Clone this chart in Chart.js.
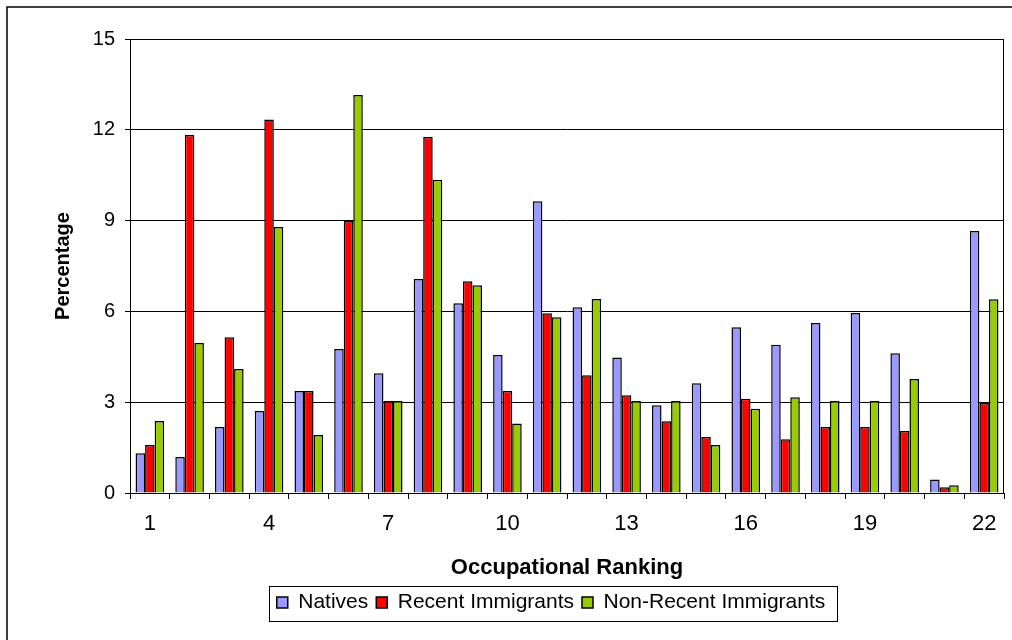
<!DOCTYPE html>
<html>
<head>
<meta charset="utf-8">
<script src="https://cdn.jsdelivr.net/npm/chart.js@4.4.0/dist/chart.umd.min.js"></script>
<style>
html,body{margin:0;padding:0;background:#fff;}
#wrap{width:1012px;height:640px;position:relative;}
</style>
</head>
<body>
<div id="wrap"><canvas id="c" width="1012" height="640"></canvas></div>
<script>
const categories = ['1','2','3','4','5','6','7','8','9','10','11','12','13','14','15','16','17','18','19','20','21','22'];
const natives = [1.31,1.19,2.18,2.71,3.37,4.76,3.96,7.07,6.27,4.56,9.64,6.14,4.48,2.90,3.63,5.48,4.90,5.62,5.95,4.62,0.45,8.66];
const recentImmigrants = [1.59,11.83,5.15,12.34,3.37,8.99,3.04,11.76,7.00,3.37,5.94,3.89,3.23,2.37,1.85,3.11,1.78,2.18,2.18,2.05,0.19,2.97];
const nonRecentImmigrants = [2.38,4.96,4.10,8.79,1.92,13.15,3.04,10.35,6.86,2.30,5.81,6.41,3.04,3.04,1.59,2.78,3.16,3.04,3.04,3.77,0.26,6.40];
const yTicks = [0,3,6,9,12,15];
const seriesNames = ['Natives','Recent Immigrants','Non-Recent Immigrants'];

const FONT = 'Arial, "Liberation Sans", sans-serif';
const LEGEND_SHIFT = 49;

const framePlugin = {
  id: 'frame',
  afterLayout(chart) {
    const lg = chart.legend;
    if (lg) { lg.left += LEGEND_SHIFT; lg.right += LEGEND_SHIFT; }
  },
  beforeDraw(chart) {
    const ctx = chart.ctx;
    ctx.save();
    ctx.fillStyle = '#fff';
    ctx.fillRect(0, 0, chart.width, chart.height);
    ctx.strokeStyle = '#000';
    ctx.lineWidth = 1.5;
    ctx.strokeRect(7, 7, chart.width + 20, chart.height + 20);
    ctx.restore();
  },
  afterDraw(chart) {
    const ctx = chart.ctx;
    const a = chart.chartArea;
    ctx.save();
    ctx.strokeStyle = '#000';
    ctx.lineWidth = 1;
    ctx.beginPath();
    ctx.moveTo(a.left, a.top + 0.5);
    ctx.lineTo(a.right - 0.5, a.top + 0.5);
    ctx.lineTo(a.right - 0.5, a.bottom);
    ctx.stroke();
    const boxes = chart.legend.legendHitBoxes;
    if (boxes && boxes.length) {
      let l = Infinity, r = -Infinity, t = Infinity, b = -Infinity;
      boxes.forEach(h => { l = Math.min(l, h.left); r = Math.max(r, h.left + h.width); t = Math.min(t, h.top); b = Math.max(b, h.top + h.height); });
      const cy = (t + b) / 2;
      ctx.strokeRect(Math.round(l - 8) + 0.5, Math.round(cy - 17) + 0.5, Math.round(r - l + 20), 35);
    }
    ctx.restore();
  }
};

new Chart(document.getElementById('c'), {
  type: 'bar',
  data: {
    labels: categories,
    datasets: [
      { label: seriesNames[0], data: natives, backgroundColor: '#9999FF', borderColor: '#000', borderWidth: 1.5 },
      { label: seriesNames[1], data: recentImmigrants, backgroundColor: '#FF0000', borderColor: '#000', borderWidth: 1.5 },
      { label: seriesNames[2], data: nonRecentImmigrants, backgroundColor: '#99CC00', borderColor: '#000', borderWidth: 1.5 }
    ]
  },
  options: {
    responsive: false,
    animation: false,
    devicePixelRatio: 1,
    layout: { padding: { left: 0, right: 8, top: 39, bottom: 17 } },
    datasets: { bar: { categoryPercentage: 0.72, barPercentage: 1.0 } },
    plugins: {
      legend: {
        position: 'bottom',
        labels: {
          font: { family: FONT, size: 21 },
          color: '#000',
          boxWidth: 11,
          boxHeight: 11,
          padding: 8,
          useBorderRadius: false
        }
      },
      tooltip: { enabled: false }
    },
    scales: {
      x: {
        grid: { display: true, offset: true, drawOnChartArea: false, drawTicks: true, tickLength: 6, color: '#000', lineWidth: 1 },
        border: { display: true, color: '#000', width: 1 },
        ticks: {
          autoSkip: false, maxRotation: 0, padding: 12,
          font: { family: FONT, size: 22 }, color: '#000',
          callback: function(v, i) { return i % 3 === 0 ? categories[i] : ''; }
        },
        title: { display: true, text: 'Occupational Ranking', font: { family: FONT, size: 22, weight: 'bold' }, color: '#000', padding: { top: 0, bottom: 3 } },
        afterFit(axis) { axis.height = 91; }
      },
      y: {
        min: 0, max: 15,
        afterBuildTicks(axis) { axis.ticks = yTicks.map(v => ({ value: v })); },
        grid: { color: '#000', lineWidth: 1, drawTicks: true, tickLength: 5 },
        border: { display: true, color: '#000', width: 1 },
        ticks: { padding: 10, font: { family: FONT, size: 20 }, color: '#000' },
        title: { display: true, text: 'Percentage', font: { family: FONT, size: 20, weight: 'bold' }, color: '#000', padding: { top: 51, bottom: 0 } },
        afterFit(axis) { axis.width = 130; }
      }
    }
  },
  plugins: [framePlugin]
});
</script>
</body>
</html>
